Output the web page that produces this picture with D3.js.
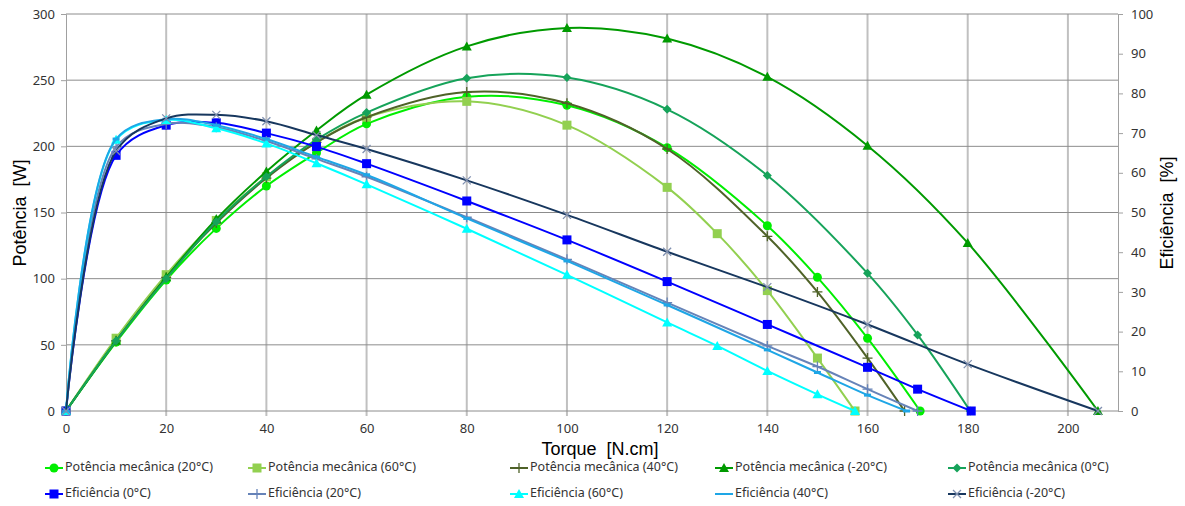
<!DOCTYPE html>
<html>
<head>
<meta charset="utf-8">
<script src="https://cdn.jsdelivr.net/npm/d3@7"></script>
<style>
  body { margin: 0; background: #fff; }
  svg text { font-family: "Noto Sans", sans-serif; fill: #333; }
  .title { font-family: "Liberation Sans", Arial, sans-serif; font-size: 18px; fill: #000; white-space: pre; }
</style>
</head>
<body>
<div id="chart"></div>
<script>
// torque values (N.cm) for each series
const torque20 = [0, 10, 20, 30, 40, 50, 60, 80, 100, 120, 140, 150, 160, 170.5];
const torque60 = [0, 10, 20, 30, 40, 50, 60, 80, 100, 120, 130, 140, 150, 157.5];
const torque40 = [0, 10, 20, 30, 40, 50, 60, 80, 100, 120, 140, 150, 160, 167.4];
const torqueM20 = [0, 10, 20, 30, 40, 50, 60, 80, 100, 120, 140, 160, 180, 206];
const torque0 = [0, 10, 20, 30, 40, 50, 60, 80, 100, 120, 140, 160, 170, 180.5];
const torqueEff0 = [0, 10, 20, 30, 40, 50, 60, 80, 100, 120, 140, 160, 170, 180.7];
const torqueEff20 = [0, 10, 20, 30, 40, 50, 60, 80, 100, 120, 140, 150, 160, 170];
const torqueEff60 = [0, 10, 20, 30, 40, 50, 60, 80, 100, 120, 130, 140, 150, 157.5];
const torqueEff40 = [0, 10, 20, 30, 40, 50, 60, 80, 100, 120, 140, 150, 160, 167.8];
const torqueEffM20 = [0, 10, 20, 30, 40, 50, 60, 80, 100, 120, 140, 160, 180, 206];

// mechanical power (W)
const power20 = [0, 52, 99, 138, 170, 195, 217, 237.5, 231, 199, 140, 101, 55, 0];
const power60 = [0, 55, 103, 144, 177, 203, 222, 234, 216, 169, 134, 91, 40, 0];
const power40 = [0, 53, 101, 142, 176, 203, 222, 241, 232.5, 198, 132, 90, 40, 0];
const powerM20 = [0, 53, 101, 145, 181, 212, 239, 275.5, 289.5, 281.5, 252.5, 200.5, 127, 0];
const power0 = [0, 53, 100, 143, 177, 205, 225.5, 251.5, 252, 228, 178, 104, 57.5, 0];

// efficiency (%)
const eff0 = [0, 64.4, 72, 72.6, 70, 66.6, 62.3, 52.9, 43.1, 32.6, 21.8, 11, 5.5, 0];
const eff20 = [0, 66.5, 72.3, 71.5, 68, 63.5, 59, 48.8, 38.2, 27.3, 16.4, 11.2, 5.5, 0];
const eff60 = [0, 68.3, 73.3, 71.2, 67.4, 62.4, 57.1, 45.9, 34.3, 22.3, 16.4, 10.1, 4.2, 0];
const eff40 = [0, 68.5, 73.5, 72, 68.5, 64, 59.5, 48.5, 37.8, 26.7, 15.4, 9.7, 4, 0];
const effM20 = [0, 65.5, 73.7, 74.6, 73, 69.5, 66, 58.1, 49.4, 40.1, 31.2, 21.8, 11.8, 0];

// axis ticks
const xTicks = [0, 20, 40, 60, 80, 100, 120, 140, 160, 180, 200];
const yTicks = [0, 50, 100, 150, 200, 250, 300];
const y2Ticks = [0, 10, 20, 30, 40, 50, 60, 70, 80, 90, 100];

const series = [
  {name: "Potência mecânica (20°C)", x: torque20, y: power20, axis: "left", color: "#00ee00", marker: "circle"},
  {name: "Potência mecânica (60°C)", x: torque60, y: power60, axis: "left", color: "#92d050", marker: "square"},
  {name: "Potência mecânica (40°C)", x: torque40, y: power40, axis: "left", color: "#4f6228", marker: "plus"},
  {name: "Potência mecânica (-20°C)", x: torqueM20, y: powerM20, axis: "left", color: "#009a00", marker: "triangle"},
  {name: "Potência mecânica (0°C)", x: torque0, y: power0, axis: "left", color: "#16a35a", marker: "diamond"},
  {name: "Eficiência (0°C)", x: torqueEff0, y: eff0, axis: "right", color: "#0000ff", marker: "square"},
  {name: "Eficiência (20°C)", x: torqueEff20, y: eff20, axis: "right", color: "#6683b8", marker: "plus"},
  {name: "Eficiência (60°C)", x: torqueEff60, y: eff60, axis: "right", color: "#00ffff", marker: "triangle"},
  {name: "Eficiência (40°C)", x: torqueEff40, y: eff40, axis: "right", color: "#1ea6e6", marker: "dash"},
  {name: "Eficiência (-20°C)", x: torqueEffM20, y: effM20, axis: "right", color: "#17375e", marker: "cross"}
];

var width = 1185, height = 506;
var margin = {top: 14, right: 67, bottom: 95, left: 66};

var x = d3.scaleLinear().domain([0, 210]).range([margin.left, width - margin.right]);
var y = d3.scaleLinear().domain([0, 300]).range([height - margin.bottom, margin.top]);
var y2 = d3.scaleLinear().domain([0, 100]).range([height - margin.bottom, margin.top]);

var svg = d3.select("#chart").append("svg")
  .attr("width", width)
  .attr("height", height);

// gridlines
svg.append("g").selectAll("line")
  .data(xTicks.slice(1))
  .enter().append("line")
  .attr("x1", d => x(d)).attr("x2", d => x(d))
  .attr("y1", y(300)).attr("y2", y(0) + 5)
  .attr("stroke", "#c0c0c0").attr("stroke-width", 2);

svg.append("g").selectAll("line")
  .data(yTicks)
  .enter().append("line")
  .attr("x1", x(0)).attr("x2", x(210))
  .attr("y1", d => y(d)).attr("y2", d => y(d))
  .attr("stroke", "#8c8c8c").attr("stroke-width", 1);

// left axis
var yAxis = svg.append("g")
  .attr("transform", "translate(" + x(0) + ",0)")
  .call(d3.axisLeft(y).tickValues(yTicks).tickSize(5).tickPadding(6));
yAxis.select(".domain").attr("stroke", "#a0a0a0");
yAxis.selectAll(".tick line").attr("stroke", "#a0a0a0");
yAxis.selectAll("text").style("font-size", "13px");

// right axis
var y2Axis = svg.append("g")
  .attr("transform", "translate(" + x(210) + ",0)")
  .call(d3.axisRight(y2).tickValues(y2Ticks).tickSize(5).tickPadding(8));
y2Axis.select(".domain").attr("stroke", "#a0a0a0");
y2Axis.selectAll(".tick line").attr("stroke", "#a0a0a0");
y2Axis.selectAll("text").style("font-size", "13px");

// bottom axis
var xAxis = svg.append("g")
  .attr("transform", "translate(0," + y(0) + ")")
  .call(d3.axisBottom(x).tickValues(xTicks).tickSize(0).tickPadding(13));
xAxis.select(".domain").remove();
xAxis.selectAll("text").style("font-size", "13px");

// axis titles
svg.append("text").attr("class", "title")
  .attr("text-anchor", "middle")
  .attr("x", 600).attr("y", 455)
  .text("Torque  [N.cm]");
svg.append("text").attr("class", "title")
  .attr("text-anchor", "middle")
  .attr("transform", "translate(26,213) rotate(-90)")
  .text("Potência  [W]");
svg.append("text").attr("class", "title")
  .attr("text-anchor", "middle")
  .attr("transform", "translate(1173,213) rotate(-90)")
  .text("Eficiência  [%]");

// marker drawing
function drawMarker(g, type, color) {
  if (type == "circle") {
    g.append("circle").attr("r", 4.5).attr("fill", color);
  } else if (type == "square") {
    g.append("rect").attr("x", -4.5).attr("y", -4.5).attr("width", 9).attr("height", 9).attr("fill", color);
  } else if (type == "triangle") {
    g.append("path").attr("d", "M0,-5L5,4L-5,4Z").attr("fill", color);
  } else if (type == "diamond") {
    g.append("path").attr("d", "M0,-4.5L4.5,0L0,4.5L-4.5,0Z").attr("fill", color);
  } else if (type == "plus") {
    g.append("path").attr("d", "M-5,0H5M0,-5V5").attr("stroke", color).attr("stroke-width", 1.3);
  } else if (type == "cross") {
    g.append("path").attr("d", "M-4,-4L4,4M-4,4L4,-4").attr("stroke", "#8090b0").attr("stroke-width", 1.3);
  } else if (type == "dash") {
    g.append("rect").attr("x", -3.5).attr("y", -1.5).attr("width", 7).attr("height", 3).attr("fill", color);
  }
}

var line = d3.line().curve(d3.curveCatmullRom.alpha(0.5));

// draw series in legend order (later series on top)
series.forEach(function(s) {
  var ys = s.axis == "left" ? y : y2;
  var pts = s.x.map(function(v, i) { return [x(v), ys(s.y[i])]; });
  svg.append("path")
    .attr("d", line(pts))
    .attr("fill", "none")
    .attr("stroke", s.color)
    .attr("stroke-width", 2);
  pts.forEach(function(p) {
    var g = svg.append("g").attr("transform", "translate(" + p[0] + "," + p[1] + ")");
    drawMarker(g, s.marker, s.color);
  });
});

// Handmade legend
var legendCols = [45, 248, 510, 715, 948];
var legendRows = [468, 494];
series.forEach(function(s, i) {
  var lx = legendCols[i % 5], ly = legendRows[Math.floor(i / 5)];
  svg.append("line")
    .attr("x1", lx).attr("x2", lx + 18)
    .attr("y1", ly).attr("y2", ly)
    .attr("stroke", s.color).attr("stroke-width", 2);
  var g = svg.append("g").attr("transform", "translate(" + (lx + 9) + "," + ly + ")");
  if (s.marker != "dash") drawMarker(g, s.marker, s.color);
  svg.append("text")
    .attr("x", lx + 20).attr("y", ly)
    .attr("dominant-baseline", "middle")
    .style("font-size", "12.5px")
    .text(s.name);
});
</script>
</body>
</html>
